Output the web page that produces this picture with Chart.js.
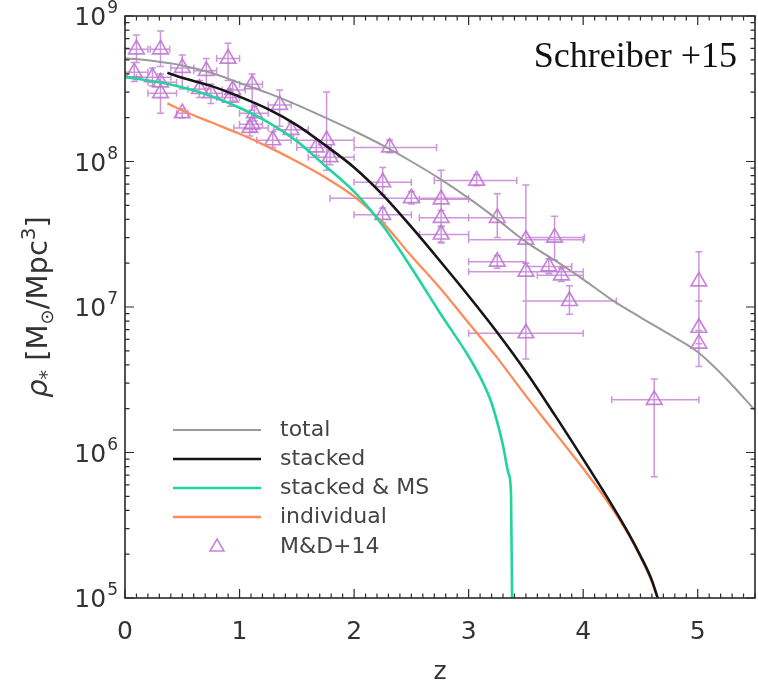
<!DOCTYPE html>
<html>
<head>
<meta charset="utf-8">
<script src="https://cdn.jsdelivr.net/npm/chart.js@4.4.1/dist/chart.umd.min.js"></script>
<style>
  html, body { margin: 0; padding: 0; background: #fff; }
  canvas { display: block; }
</style>
</head>
<body>
<canvas id="chart--smd" width="758" height="687"></canvas>
<script>

// stellar mass density models (Schreiber +15), rho in Msun/Mpc^3
const totalZ = [0, 0.25, 0.5, 0.75, 1, 1.25, 1.5, 1.75, 2, 2.25, 2.5, 2.75, 3, 3.25, 3.5, 3.75, 4, 4.25, 4.5, 4.75, 5, 5.25, 5.5]
const totalRho = [5.13e8, 4.9e8, 4.57e8, 4.07e8, 3.47e8, 2.95e8, 2.45e8, 2.0e8, 1.62e8, 1.29e8, 1.0e8, 7.6e7, 5.6e7, 4.0e7, 2.8e7, 2.1e7, 1.55e7, 1.12e7, 8.5e6, 6.5e6, 4.9e6, 3.2e6, 1.95e6]

const stackedZ = [0.37, 0.5, 0.75, 1, 1.25, 1.5, 1.75, 2, 2.25, 2.5, 2.75, 3, 3.25, 3.5, 3.75, 4, 4.25, 4.4, 4.5, 4.6, 4.65]
const stackedRho = [4.07e8, 3.76e8, 3.31e8, 2.79e8, 2.29e8, 1.78e8, 1.29e8, 9.1e7, 5.9e7, 3.55e7, 2.07e7, 1.19e7, 6.68e6, 3.59e6, 1.82e6, 9.0e5, 4.37e5, 2.75e5, 1.95e5, 1.32e5, 1.0e5]

const stackedMsZ = [0, 0.25, 0.5, 0.75, 1, 1.25, 1.5, 1.75, 2, 2.25, 2.5, 2.75, 3, 3.1, 3.2, 3.3, 3.35, 3.37, 3.38]
const stackedMsRho = [3.8e8, 3.55e8, 3.24e8, 2.82e8, 2.34e8, 1.86e8, 1.38e8, 9.3e7, 6.2e7, 3.63e7, 1.86e7, 9.1e6, 4.57e6, 3.31e6, 2.19e6, 1.12e6, 7.1e5, 5.25e5, 8e4]

const indivZ = [0.37, 0.5, 0.75, 1, 1.25, 1.5, 1.75, 2, 2.25, 2.5, 2.75, 3, 3.25, 3.5, 3.75, 4, 4.25, 4.4, 4.5, 4.6, 4.65]
const indivRho = [2.51e8, 2.24e8, 1.86e8, 1.55e8, 1.26e8, 1.0e8, 7.76e7, 5.75e7, 3.8e7, 2.24e7, 1.35e7, 7.76e6, 4.47e6, 2.45e6, 1.38e6, 7.76e5, 4.17e5, 2.69e5, 1.91e5, 1.29e5, 1.0e5]

// M&D+14 compilation with z ranges and rho errors
const mdZ =    [0.10, 0.31, 0.08, 0.24, 0.31, 0.31, 0.50, 0.50, 0.71, 0.90, 0.65, 0.75, 0.94, 1.11, 0.92, 1.13, 1.11, 1.35, 1.29, 1.09, 1.76, 1.67, 1.79, 1.45, 2.31, 2.25, 2.25, 2.50, 2.76, 2.76, 2.76, 3.07, 3.25, 3.50, 3.75, 3.50, 3.50, 3.25, 3.70, 3.81, 3.88, 5.01, 5.01, 5.01, 4.62]
const mdZLo =  [0.00, 0.22, 0.00, 0.10, 0.20, 0.20, 0.45, 0.40, 0.60, 0.80, 0.55, 0.65, 0.85, 1.00, 0.80, 1.00, 1.00, 1.25, 1.15, 0.95, 1.50, 1.50, 1.60, 1.30, 2.00, 2.00, 2.00, 1.79, 2.57, 2.57, 2.57, 2.70, 3.00, 3.00, 3.50, 3.00, 3.00, 3.00, 3.50, 3.60, 3.50, 5.01, 5.01, 5.01, 4.25]
const mdZHi =  [0.20, 0.39, 0.20, 0.40, 0.45, 0.45, 0.55, 0.60, 0.80, 1.00, 0.75, 0.85, 1.05, 1.20, 1.00, 1.25, 1.20, 1.45, 1.45, 1.25, 2.00, 1.80, 2.00, 1.60, 2.72, 2.50, 2.50, 3.00, 3.00, 3.00, 3.00, 3.42, 3.50, 4.00, 4.01, 4.00, 4.00, 3.50, 3.90, 4.00, 4.29, 5.01, 5.01, 5.01, 5.01]
const mdRho =   [5.9e8, 5.9e8, 4.1e8, 3.8e8, 3.5e8, 2.95e8, 2.15e8, 4.4e8, 4.2e8, 5.1e8, 3.15e8, 2.95e8, 3.1e8, 3.4e8, 2.75e8, 2.15e8, 1.8e8, 2.45e8, 1.4e8, 1.7e8, 1.4e8, 1.25e8, 1.07e8, 1.65e8, 1.25e8, 7.2e7, 4.3e7, 5.6e7, 5.5e7, 4.1e7, 3.15e7, 7.4e7, 4.1e7, 2.9e7, 3.0e7, 1.75e7, 6.6e6, 2.05e7, 1.9e7, 1.65e7, 1.1e7, 1.5e7, 7.2e6, 5.6e6, 2.3e6]
const mdRhoLo = [4.8e8, 4.5e8, 3.55e8, 3.3e8, 2.95e8, 2.15e8, 2.0e8, 3.15e8, 3.15e8, 3.6e8, 2.75e8, 2.5e8, 2.6e8, 2.25e8, 2.4e8, 1.9e8, 1.6e8, 1.75e8, 1.25e8, 1.5e8, 8.7e7, 1.1e8, 9.5e7, 1.5e8, 1.15e8, 5.9e7, 3.8e7, 5.1e7, 2.75e7, 3.6e7, 2.8e7, 6.8e7, 3.0e7, 2.0e7, 2.1e7, 1.1e7, 4.4e6, 1.85e7, 1.7e7, 1.5e7, 8.9e6, 1.1e7, 5.6e6, 3.9e6, 6.8e5]
const mdRhoHi = [7.4e8, 7.9e8, 4.8e8, 4.4e8, 4.0e8, 3.55e8, 2.3e8, 5.4e8, 5.1e8, 6.5e8, 3.6e8, 3.4e8, 3.6e8, 4.0e8, 3.15e8, 2.4e8, 2.0e8, 3.1e8, 1.6e8, 1.9e8, 3.0e8, 1.4e8, 1.2e8, 1.85e8, 1.4e8, 9.1e7, 4.8e7, 6.2e7, 8.7e7, 4.6e7, 3.55e7, 8.1e7, 6.0e7, 6.9e7, 4.2e7, 2.0e7, 1.1e7, 2.25e7, 2.15e7, 1.85e7, 1.4e7, 2.4e7, 1.1e7, 6.9e6, 3.2e6]

const xTicks = [0, 1, 2, 3, 4, 5]
const yDecades = [5, 6, 7, 8, 9]
const legendLabels = ['total', 'stacked', 'stacked & MS', 'individual', 'M&D+14']

const purple = 'rgba(192, 120, 210, 0.9)'
const purpleBar = 'rgba(196, 130, 212, 0.85)'
const labelFont = '"DejaVu Sans", sans-serif'

function pts(xs, ys) {
	return xs.map(function(v, i) { return {x: v, y: ys[i]} })
}

const errorBars = {
	id: 'errorBars',
	beforeDatasetsDraw(chart) {
		const {ctx, chartArea: a, scales: {x, y}} = chart
		const cap = 3.5
		ctx.save()
		ctx.beginPath()
		ctx.rect(a.left, a.top, a.right - a.left, a.bottom - a.top)
		ctx.clip()
		ctx.strokeStyle = purpleBar
		ctx.lineWidth = 1.5
		ctx.beginPath()
		for (let i = 0; i < mdZ.length; i++) {
			const px = x.getPixelForValue(mdZ[i])
			const py = y.getPixelForValue(mdRho[i])
			if (mdZHi[i] > mdZLo[i]) {
				const x0 = x.getPixelForValue(mdZLo[i]), x1 = x.getPixelForValue(mdZHi[i])
				ctx.moveTo(x0, py); ctx.lineTo(x1, py)
				ctx.moveTo(x0, py - cap); ctx.lineTo(x0, py + cap)
				ctx.moveTo(x1, py - cap); ctx.lineTo(x1, py + cap)
			}
			const y0 = y.getPixelForValue(mdRhoLo[i]), y1 = y.getPixelForValue(mdRhoHi[i])
			ctx.moveTo(px, y0); ctx.lineTo(px, y1)
			ctx.moveTo(px - cap, y0); ctx.lineTo(px + cap, y0)
			ctx.moveTo(px - cap, y1); ctx.lineTo(px + cap, y1)
		}
		ctx.stroke()
		ctx.restore()
	}
}

// frame with inward ticks, y labels, y title, legend and the label in the corner
const frame = {
	id: 'frame',
	afterDraw(chart) {
		const {ctx, chartArea: a, scales: {x, y}} = chart
		ctx.save()
		ctx.strokeStyle = '#2a2a2a'
		ctx.lineWidth = 1.2
		ctx.beginPath()
		for (let k = 0; k <= 55; k++) {
			const px = x.getPixelForValue(k / 10)
			const len = k % 10 === 0 ? 9 : 4.5
			ctx.moveTo(px, a.bottom); ctx.lineTo(px, a.bottom - len)
			ctx.moveTo(px, a.top); ctx.lineTo(px, a.top + len)
		}
		for (let n = 5; n <= 9; n++) {
			for (let m = 1; m <= 9; m++) {
				if (n === 9 && m > 1) break
				const py = y.getPixelForValue(m * Math.pow(10, n))
				const len = m === 1 ? 9 : 4.5
				ctx.moveTo(a.left, py); ctx.lineTo(a.left + len, py)
				ctx.moveTo(a.right, py); ctx.lineTo(a.right - len, py)
			}
		}
		ctx.stroke()
		ctx.lineWidth = 1.6
		ctx.strokeRect(a.left, a.top, a.right - a.left, a.bottom - a.top)

		// decade labels 10^n
		ctx.fillStyle = '#333'
		ctx.textBaseline = 'alphabetic'
		yDecades.forEach(function(n) {
			const py = y.getPixelForValue(Math.pow(10, n))
			ctx.font = '17px ' + labelFont
			const ew = ctx.measureText(String(n)).width
			ctx.textAlign = 'left'
			ctx.fillText(String(n), 118 - ew, py - 3)
			ctx.font = '25px ' + labelFont
			ctx.textAlign = 'right'
			ctx.fillText('10', 118 - ew - 1, py + 9)
		})

		// y title
		const parts = [
			{t: 'ρ', f: 'italic 29px ' + labelFont, dy: 0},
			{t: '*', f: '19px ' + labelFont, dy: 6},
			{t: ' [M', f: '29px ' + labelFont, dy: 0},
			{t: '⊙', f: '18px ' + labelFont, dy: 6},
			{t: '/Mpc', f: '29px ' + labelFont, dy: 0},
			{t: '3', f: '20px ' + labelFont, dy: -12},
			{t: ']', f: '29px ' + labelFont, dy: 0}
		]
		let total = 0
		parts.forEach(function(p) { ctx.font = p.f; p.w = ctx.measureText(p.t).width; total += p.w })
		ctx.save()
		ctx.translate(37, (a.top + a.bottom) / 2)
		ctx.rotate(-Math.PI / 2)
		ctx.textAlign = 'left'
		let cx = -total / 2
		parts.forEach(function(p) {
			ctx.font = p.f
			ctx.fillText(p.t, cx, 10 + p.dy)
			cx += p.w
		})
		ctx.restore()

		// legend
		const rows = [430, 459, 488, 517, 547]
		chart.data.datasets.forEach(function(ds, i) {
			const ry = rows[i]
			if (ds.showLine === false) {
				ctx.beginPath()
				const r = 8
				ctx.moveTo(217, ry - r)
				ctx.lineTo(217 + r * Math.sin(2 * Math.PI / 3), ry - r * Math.cos(2 * Math.PI / 3))
				ctx.lineTo(217 + r * Math.sin(4 * Math.PI / 3), ry - r * Math.cos(4 * Math.PI / 3))
				ctx.closePath()
				ctx.strokeStyle = purple
				ctx.lineWidth = 1.6
				ctx.stroke()
			} else {
				ctx.beginPath()
				ctx.moveTo(173, ry); ctx.lineTo(261, ry)
				ctx.strokeStyle = ds.borderColor
				ctx.lineWidth = ds.borderWidth
				ctx.stroke()
			}
			ctx.fillStyle = '#444'
			ctx.font = '22px ' + labelFont
			ctx.textAlign = 'left'
			ctx.textBaseline = 'middle'
			ctx.fillText(legendLabels[i], 280, ry)
		})

		ctx.fillStyle = '#111'
		ctx.font = '36px "Liberation Serif", serif'
		ctx.textAlign = 'right'
		ctx.textBaseline = 'alphabetic'
		ctx.fillText('Schreiber +15', 737, 67)
		ctx.restore()
	}
}

const ctx = document.getElementById('chart--smd').getContext('2d')
const chart__smd = new Chart(ctx, {
	type: 'line',
	data: {
		datasets: [{
			label: legendLabels[0],
			data: pts(totalZ, totalRho),
			borderColor: '#9a9a9a',
			borderWidth: 2,
			pointRadius: 0,
			cubicInterpolationMode: 'monotone'
		}, {
			label: legendLabels[1],
			data: pts(stackedZ, stackedRho),
			borderColor: '#151515',
			borderWidth: 2.6,
			pointRadius: 0,
			cubicInterpolationMode: 'monotone'
		}, {
			label: legendLabels[2],
			data: pts(stackedMsZ, stackedMsRho),
			borderColor: '#22d49e',
			borderWidth: 2.6,
			pointRadius: 0,
			cubicInterpolationMode: 'monotone'
		}, {
			label: legendLabels[3],
			data: pts(indivZ, indivRho),
			borderColor: '#ff8b5c',
			borderWidth: 2.3,
			pointRadius: 0,
			cubicInterpolationMode: 'monotone'
		}, {
			label: legendLabels[4],
			data: pts(mdZ, mdRho),
			showLine: false,
			pointStyle: 'triangle',
			pointRadius: 9,
			pointBorderWidth: 1.7,
			pointBorderColor: purple,
			pointBackgroundColor: 'rgba(0,0,0,0)'
		}]
	},
	options: {
		responsive: false,
		animation: false,
		events: [],
		layout: {
			autoPadding: false,
			padding: {top: 16, right: 3, left: 0, bottom: 0}
		},
		plugins: {
			legend: {display: false},
			tooltip: {enabled: false}
		},
		scales: {
			x: {
				type: 'linear',
				min: 0,
				max: 5.5,
				grid: {display: false, drawTicks: false},
				border: {display: false},
				afterBuildTicks: function(scale) {
					scale.ticks = xTicks.map(function(v) { return {value: v} })
				},
				afterFit: function(scale) {
					scale.height = 89
					scale.paddingLeft = 0
					scale.paddingRight = 0
				},
				ticks: {
					padding: 19,
					color: '#333',
					font: {family: 'DejaVu Sans', size: 25}
				},
				title: {
					display: true,
					text: 'z',
					color: '#333',
					font: {family: 'DejaVu Sans', size: 25},
					padding: {top: 0, bottom: 0}
				}
			},
			y: {
				type: 'logarithmic',
				min: 1e5,
				max: 1e9,
				grid: {display: false, drawTicks: false},
				border: {display: false},
				ticks: {display: false},
				afterFit: function(scale) {
					scale.width = 125
					scale.paddingTop = 0
					scale.paddingBottom = 0
				}
			}
		}
	},
	plugins: [errorBars, frame]
})
</script>
</body>
</html>
